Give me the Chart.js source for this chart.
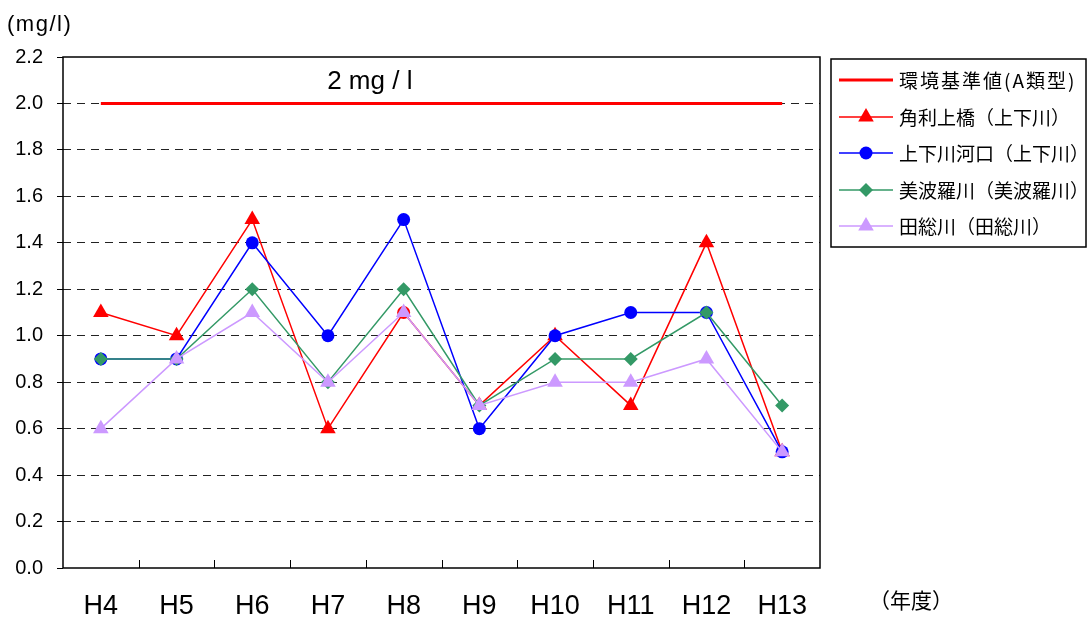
<!DOCTYPE html>
<html>
<head>
<meta charset="utf-8">
<script src="https://cdn.jsdelivr.net/npm/chart.js@4/dist/chart.umd.min.js"></script>
<style>
  html, body { margin: 0; padding: 0; background: #fff; }
  #wrap { width: 1088px; height: 617px; }
</style>
</head>
<body>
<div id="wrap"><canvas id="chart" width="1088" height="617"></canvas></div>
<script>
'use strict';

const years = ['H4', 'H5', 'H6', 'H7', 'H8', 'H9', 'H10', 'H11', 'H12', 'H13'];
const standardValues = [2.0, 2.0, 2.0, 2.0, 2.0, 2.0, 2.0, 2.0, 2.0, 2.0];
const kadoriValues = [1.1, 1.0, 1.5, 0.6, 1.1, 0.7, 1.0, 0.7, 1.4, 0.5];
const kakoValues = [0.9, 0.9, 1.4, 1.0, 1.5, 0.6, 1.0, 1.1, 1.1, 0.5];
const minabaraValues = [0.9, 0.9, 1.2, 0.8, 1.2, 0.7, 0.9, 0.9, 1.1, 0.7];
const tasouValues = [0.6, 0.9, 1.1, 0.8, 1.1, 0.7, 0.8, 0.8, 0.9, 0.5];
const yTicks = [0, 0.2, 0.4, 0.6, 0.8, 1.0, 1.2, 1.4, 1.6, 1.8, 2.0, 2.2];

const LATIN = '"Liberation Sans", Arial, sans-serif';
const CJK = '"Noto Sans CJK JP", "Noto Sans CJK SC", sans-serif';

function drawMarker(ctx, style, r, x, y, color) {
  ctx.save();
  ctx.fillStyle = color;
  ctx.beginPath();
  if (style === 'circle') {
    ctx.arc(x, y, r, 0, Math.PI * 2);
  } else if (style === 'triangle') {
    const s = Math.sin(Math.PI / 3) * r;
    ctx.moveTo(x, y - r);
    ctx.lineTo(x + s, y + r / 2);
    ctx.lineTo(x - s, y + r / 2);
  } else if (style === 'rectRot') {
    ctx.moveTo(x, y - r);
    ctx.lineTo(x + r, y);
    ctx.lineTo(x, y + r);
    ctx.lineTo(x - r, y);
  }
  ctx.closePath();
  ctx.fill();
  ctx.restore();
}

const framePlugin = {
  id: 'frame',
  beforeDatasetsDraw(chart) {
    const { ctx, chartArea: a, scales } = chart;
    const x = scales.x;
    const y = scales.y;
    ctx.save();
    // inner tick marks at category boundaries
    const step = x.getPixelForValue(1) - x.getPixelForValue(0);
    ctx.strokeStyle = '#000';
    ctx.lineWidth = 1;
    for (let i = 1; i < years.length; i++) {
      const px = Math.round(x.getPixelForValue(i) - step / 2) + 0.5;
      ctx.beginPath();
      ctx.moveTo(px, a.bottom);
      ctx.lineTo(px, a.bottom - 8);
      ctx.stroke();
    }
    // plot frame
    ctx.lineWidth = 1.5;
    ctx.strokeRect(a.left, a.top, a.right - a.left, a.bottom - a.top);

    // standard label
    ctx.fillStyle = '#000';
    ctx.font = '26px ' + LATIN;
    ctx.textAlign = 'center';
    ctx.textBaseline = 'alphabetic';
    const cx = (x.getPixelForValue(3) + x.getPixelForValue(4)) / 2 + 4;
    ctx.fillText('2 mg / l', cx, y.getPixelForValue(2.0) - 14);

    // axis captions
    ctx.textAlign = 'left';
    ctx.font = '22px ' + LATIN;
    ctx.letterSpacing = '1.5px';
    ctx.fillText('(mg/l)', 7, 31);
    ctx.letterSpacing = '0px';
    ctx.font = '21px ' + CJK;
    ctx.fillText('（年度）', 869, 608);
    ctx.restore();
  },
  afterDraw(chart) {
    const { ctx } = chart;
    ctx.save();
    ctx.strokeStyle = '#000';
    ctx.lineWidth = 1.5;
    ctx.strokeRect(831, 59, 255, 188);
    const rows = [80, 117, 153, 190, 226];
    chart.data.datasets.forEach((ds, i) => {
      const ry = rows[i];
      ctx.strokeStyle = ds.borderColor;
      ctx.lineWidth = ds.borderWidth;
      ctx.beginPath();
      ctx.moveTo(839, ry);
      ctx.lineTo(893, ry);
      ctx.stroke();
      if (ds.legendMarker) {
        drawMarker(ctx, ds.legendMarker, ds.legendRadius, 866, ry, ds.borderColor);
      }
      ctx.fillStyle = '#000';
      ctx.font = '19px ' + CJK;
      ctx.letterSpacing = i === 0 ? '2px' : '0px';
      ctx.textAlign = 'left';
      ctx.textBaseline = 'middle';
      ctx.fillText(ds.label, 899, ry + 1);
    });
    ctx.restore();
  }
};

// the H8 mark of the first river is drawn as a circle in the original
const redStyles = kadoriValues.map((v, i) => (i === 4 ? 'circle' : 'triangle'));
const redRadius = kadoriValues.map((v, i) => (i === 4 ? 6.5 : 9));

new Chart(document.getElementById('chart'), {
  type: 'line',
  data: {
    labels: years,
    datasets: [
      {
        label: '環境基準値(A類型)',
        data: standardValues,
        borderColor: '#ff0000',
        borderWidth: 3,
        pointRadius: 0,
        order: 5
      },
      {
        label: '角利上橋（上下川）',
        data: kadoriValues,
        borderColor: '#ff0000',
        backgroundColor: '#ff0000',
        borderWidth: 1.5,
        pointStyle: redStyles,
        pointRadius: redRadius,
        pointBorderWidth: 0,
        legendMarker: 'triangle',
        legendRadius: 9,
        order: 4
      },
      {
        label: '上下川河口（上下川）',
        data: kakoValues,
        borderColor: '#0000ff',
        backgroundColor: '#0000ff',
        borderWidth: 1.5,
        pointStyle: 'circle',
        pointRadius: 6.5,
        pointBorderWidth: 0,
        legendMarker: 'circle',
        legendRadius: 6.5,
        order: 3
      },
      {
        label: '美波羅川（美波羅川）',
        data: minabaraValues,
        borderColor: '#339966',
        backgroundColor: '#339966',
        borderWidth: 1.5,
        pointStyle: 'rectRot',
        pointRadius: 7,
        pointBorderWidth: 0,
        legendMarker: 'rectRot',
        legendRadius: 7,
        order: 2
      },
      {
        label: '田総川（田総川）',
        data: tasouValues,
        borderColor: '#cc99ff',
        backgroundColor: '#cc99ff',
        borderWidth: 1.5,
        pointStyle: 'triangle',
        pointRadius: 9,
        pointBorderWidth: 0,
        legendMarker: 'triangle',
        legendRadius: 9,
        order: 1
      }
    ]
  },
  options: {
    responsive: false,
    animation: false,
    layout: { padding: { top: 57, right: 268, left: 0, bottom: 0 } },
    plugins: {
      legend: { display: false },
      tooltip: { enabled: false }
    },
    scales: {
      x: {
        offset: true,
        grid: { display: false, drawTicks: false },
        border: { display: false },
        ticks: {
          color: '#000',
          padding: 22,
          maxRotation: 0,
          font: { family: LATIN, size: 27 }
        },
        afterFit(scale) { scale.height = 49; }
      },
      y: {
        min: 0,
        max: 2.2,
        afterBuildTicks(scale) { scale.ticks = yTicks.map((v) => ({ value: v })); },
        grid: {
          color(c) {
            const v = c.tick ? c.tick.value : 0;
            return (v === 0 || v === 2.2) ? 'rgba(0,0,0,0)' : '#222';
          },
          lineWidth: 1,
          tickLength: 6,
          tickColor: '#000',
          tickBorderDash: []
        },
        border: { display: false, dash: [8, 6] },
        ticks: {
          color: '#000',
          padding: 14,
          font: { family: LATIN, size: 20 },
          callback(value) { return Number(value).toFixed(1); }
        },
        afterFit(scale) { scale.width = 63; }
      }
    }
  },
  plugins: [framePlugin]
});
</script>
</body>
</html>
